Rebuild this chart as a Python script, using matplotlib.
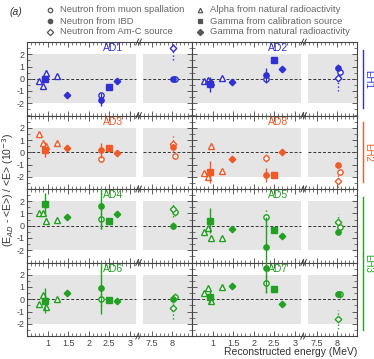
import matplotlib.pyplot as plt
from matplotlib.lines import Line2D
from matplotlib.ticker import MultipleLocator, FixedLocator, FormatStrFormatter

plt.rcParams['font.family'] = ['Liberation Sans', 'DejaVu Sans']
plt.rcParams['axes.unicode_minus'] = False

# panels, row by row (left column, right column)
ad_names = ['AD1', 'AD2', 'AD3', 'AD8', 'AD4', 'AD5', 'AD6', 'AD7']
ad_hall = ['EH1', 'EH1', 'EH2', 'EH2', 'EH3', 'EH3', 'EH3', 'EH3']
hall_colors = {'EH1': '#3030d4', 'EH2': '#f05a28', 'EH3': '#22a022'}

# alpha from natural radioactivity (open triangles)
alpha_e = [0.79, 0.90, 0.97, 1.22]
alpha_val = [[-0.20, -0.60, 0.45, 0.20],
             [-0.20, -0.10, -0.30, 0.05],
             [1.50, 0.72, 0.50, 0.78],
             [-1.70, -2.05, 0.52, -1.50],
             [1.05, 1.05, 0.42, 0.50],
             [-0.55, -0.22, -0.97, -0.97],
             [-0.39, 0.31, -0.64, 0.06],
             [0.53, 0.89, -0.17, 1.03]]
alpha_err = [0.15, 0.15, 0.25, 0.15]

# gamma from calibration source (filled squares)
calib_e = [0.95, 2.49]
calib_val = [[-0.05, -0.65], [-0.45, 1.50], [0.22, 0.36], [-1.63, -1.83],
             [1.75, 0.36], [0.42, -0.36], [-0.11, -0.03], [0.19, 0.86]]
calib_err = [[0.2, 0.1], [0.6, 0.1], [0.6, 0.1], [0.9, 0.1],
             [0.9, 0.1], [1.0, 0.1], [1.0, 0.1], [0.5, 0.1]]

# gamma from natural radioactivity (filled diamonds)
natg_e = [1.47, 2.70]
natg_val = [[-1.30, -0.20], [-0.25, 0.80], [0.36, -0.03], [-0.53, 0.03],
            [0.75, 0.97], [-0.28, -0.83], [0.53, -0.17], [1.08, -0.39]]
natg_err = [0.2, 0.2]

# neutron from IBD (filled circles)
ibd_e = [2.31, 8.03]
ibd_val = [[-1.70, -0.05], [0.30, 0.90], [0.17, 0.45], [-1.86, -1.03],
           [1.60, 0.00], [-1.72, -0.47], [0.89, 0.06], [2.56, 0.39]]
ibd_err = [[0.5, 0.15], [0.6, 0.2], [0.6, 0.2], [0.6, 0.15],
           [1.85, 0.3], [2.4, 0.2], [2.1, 0.2], [2.05, 0.2]]

# neutron from muon spallation (open circles)
spall_e = [2.31, 8.07]
spall_val = [[-1.30, -0.05], [-0.05, 0.55], [-0.53, -0.33], [-0.47, -1.64],
             [0.55, 1.10], [0.69, -0.14], [0.06, 0.17], [1.36, 0.39]]
spall_err = [[0.3, 0.15], [0.3, 0.3], [0.3, 0.2], [0.3, 0.2],
             [0.8, 0.3], [0.7, 0.3], [0.6, 0.3], [0.8, 0.3]]

# neutron from Am-C source (open diamonds)
amc_e = 8.03
amc_val = [2.55, 0.10, 0.70, -2.33, 1.33, 0.33, -0.72, -1.64]
amc_err = [1.0, 1.1, 0.7, 0.8, 0.6, 0.6, 0.9, 0.8]

W, H = 374, 359
fig = plt.figure(figsize=(W / 100, H / 100), dpi=100)

col_x = [27, 192]
wl, wr = 113, 52
top, row_h = 42, 73.5
xl_lim = (0.5, 3.25)
xr_lim = (7.2, 8.5)
grey = '#e5e5e5'
axc = '#444444'


def pts(ax, x, y, err, marker, color, filled, dotted, ms=3.8):
    eb = ax.errorbar(x, y, yerr=err, fmt=marker, color=color, ms=ms,
                     mfc=color if filled else 'white', mec=color, mew=1,
                     elinewidth=1, capsize=0, zorder=4 if filled else 3)
    if dotted:
        eb[2][0].set_linestyle(':')


def style(ax, side):
    for s in ax.spines.values():
        s.set_color(axc)
        s.set_linewidth(0.8)
    ax.set_ylim(-3, 3)
    ax.yaxis.set_major_locator(FixedLocator([-2, -1, 0, 1, 2]))
    ax.yaxis.set_minor_locator(MultipleLocator(0.5))
    ax.tick_params(which='both', direction='in', top=True, bottom=True,
                   colors=axc, labelsize=6.5, pad=2)
    ax.tick_params(which='major', length=3.5, width=0.6)
    ax.tick_params(which='minor', length=2, width=0.5)
    if side == 'left':
        ax.spines['right'].set_visible(False)
        ax.tick_params(which='both', left=True, right=False)
    else:
        ax.spines['left'].set_visible(False)
        ax.tick_params(which='both', left=False, right=True, labelleft=False)


for i, name in enumerate(ad_names):
    r, c = divmod(i, 2)
    color = hall_colors[ad_hall[i]]
    y0 = 1 - (top + (r + 1) * row_h) / H
    axl = fig.add_axes([col_x[c] / W, y0, wl / W, row_h / H])
    axr = fig.add_axes([(col_x[c] + wl) / W, y0, wr / W, row_h / H])
    style(axl, 'left')
    style(axr, 'right')

    axl.set_xlim(*xl_lim)
    axr.set_xlim(*xr_lim)
    axl.xaxis.set_major_locator(FixedLocator([1, 1.5, 2, 2.5, 3]))
    axl.xaxis.set_minor_locator(MultipleLocator(0.1))
    axr.xaxis.set_major_locator(FixedLocator([7.5, 8]))
    axr.xaxis.set_minor_locator(MultipleLocator(0.1))
    for ax in (axl, axr):
        ax.xaxis.set_major_formatter(FormatStrFormatter('%g'))
        if r < 3:
            ax.tick_params(labelbottom=False)
    if c == 1:
        axl.tick_params(labelleft=False)

    # grey band and zero line
    gl = (3.15 - xl_lim[0]) / (xl_lim[1] - xl_lim[0])
    gr = (7.27 - xr_lim[0]) / (xr_lim[1] - xr_lim[0])
    axl.axhspan(-2, 2, xmin=0, xmax=gl, color=grey, lw=0, zorder=0)
    axr.axhspan(-2, 2, xmin=gr, xmax=1, color=grey, lw=0, zorder=0)
    axl.axhline(0, xmin=0, xmax=gl, color='#333333', ls=(0, (3, 2)), lw=0.7, zorder=1)
    axr.axhline(0, xmin=gr, xmax=1, color='#333333', ls=(0, (3, 2)), lw=0.7, zorder=1)

    # break marks
    for yb in (0, 1):
        for dx in (-0.025, 0.0):
            axl.plot([1 + dx - 0.012, 1 + dx + 0.012], [yb - 0.04, yb + 0.04],
                     transform=axl.transAxes, color=axc, lw=0.7, clip_on=False, zorder=6)

    axl.text(2.6, 2.5, name, ha='center', va='center', color=color, fontsize=7.5)

    pts(axl, alpha_e, alpha_val[i], alpha_err, '^', color, False, False)
    pts(axl, calib_e, calib_val[i], calib_err[i], 's', color, True, False)
    pts(axl, natg_e, natg_val[i], natg_err, 'D', color, True, False, ms=3.3)
    pts(axl, ibd_e[0], ibd_val[i][0], ibd_err[i][0], 'o', color, True, False)
    pts(axl, spall_e[0], spall_val[i][0], spall_err[i][0], 'o', color, False, True)
    pts(axr, ibd_e[1], ibd_val[i][1], ibd_err[i][1], 'o', color, True, False)
    pts(axr, spall_e[1], spall_val[i][1], spall_err[i][1], 'o', color, False, True)
    pts(axr, amc_e, amc_val[i], amc_err[i], 'D', color, False, True, ms=3.3)

# hall labels on the right
halls = [('EH1', 50, 108), ('EH2', 122, 182), ('EH3', 197, 330)]
for h, ya, yb in halls:
    col = hall_colors[h]
    fig.add_artist(Line2D([363 / W, 363 / W], [1 - ya / H, 1 - yb / H], color=col, lw=1))
    fig.text(368 / W, 1 - (ya + yb) / 2 / H, h, rotation=-90, color=col,
             fontsize=7, ha='center', va='center')

fig.text(8 / W, 1 - 190 / H, r'(E$_{AD}$ - <E>) / <E> (10$^{-3}$)', rotation=90,
         ha='center', va='center', fontsize=7.5, color='#333333')
fig.text(357 / W, 1 - 352 / H, 'Reconstructed energy (MeV)', ha='right',
         va='center', fontsize=7.5, color='#333333')
fig.text(10 / W, 1 - 12 / H, '(a)', style='italic', fontsize=7.5, color='#333333',
         va='center')

# legend
leg_items = [('o', False, 'Neutron from muon spallation', 50, 10),
             ('o', True, 'Neutron from IBD', 50, 21),
             ('D', False, 'Neutron from Am-C source', 50, 32),
             ('^', False, 'Alpha from natural radioactivity', 200, 10),
             ('s', True, 'Gamma from calibration source', 200, 21),
             ('D', True, 'Gamma from natural radioactivity', 200, 32)]
for m, filled, label, lx, ly in leg_items:
    fig.add_artist(Line2D([lx / W], [1 - ly / H], marker=m, ms=3.2, mew=0.9,
                          color='#555555', mfc='#555555' if filled else 'white',
                          ls='none'))
    fig.text((lx + 10) / W, 1 - ly / H, label, fontsize=6.8, color='#666666',
             va='center')

fig.savefig('out.png', dpi=100)
